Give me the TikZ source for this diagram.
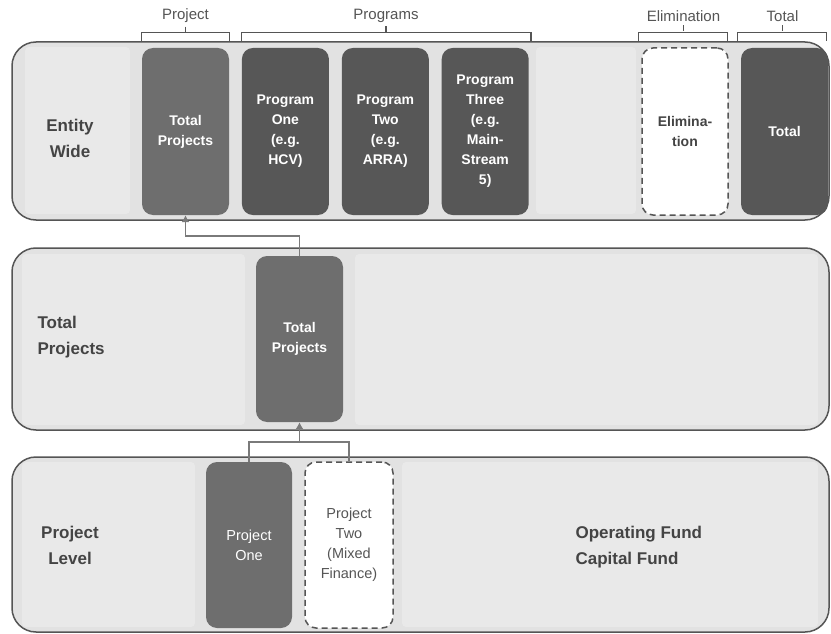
\documentclass[tikz,border=0pt]{standalone}
\usepackage{fontspec}
\setmainfont{Liberation Sans}
\usepackage{xcolor}
\usepackage{tikz}
\usetikzlibrary{arrows.meta,positioning}
\definecolor{panelfill}{HTML}{E2E2E2}
\definecolor{stripfill}{HTML}{E9E9E9}
\definecolor{panelline}{HTML}{555555}
\definecolor{boxmid}{HTML}{6E6E6E}
\definecolor{boxdark}{HTML}{575757}
\definecolor{labeltext}{HTML}{444444}
\definecolor{headtext}{HTML}{555555}
\definecolor{linkgray}{HTML}{7A7A7A}

\begin{document}
\begin{tikzpicture}[x=1pt,y=-1pt,>={Latex[length=7pt,width=8pt]},node distance=12.5pt,
panel/.style={draw=panelline,line width=1.5pt,rounded corners=24pt,fill=panelfill,minimum width=817pt,inner sep=0pt},
strip/.style={fill=stripfill,rounded corners=4pt},
box/.style={rounded corners=11pt,minimum width=87pt,minimum height=167pt,inner sep=2pt,align=center,text=white,font=\fontsize{14}{20}\selectfont\bfseries},
dbox/.style={box,fill=white,draw=panelline,dash pattern=on 6pt off 4pt,line width=1.5pt},
tier/.style={font=\fontsize{17}{26}\selectfont\bfseries,text=labeltext},
head/.style={font=\fontsize{15}{17}\selectfont,text=headtext},
brk/.style={draw=panelline,line width=1.2pt},
link/.style={draw=linkgray,line width=1.5pt}]
\useasboundingbox[fill=white] (0,0) rectangle (831,634);

% the three levels
\node[panel,minimum height=178pt] (ew) at (420.5,131) {};
\node[panel,minimum height=182pt] (tpl) at (420.5,339) {};
\node[panel,minimum height=175pt] (pl) at (420.5,544.5) {};
\fill[strip] (25,47) rectangle (130,214);
\fill[strip] (536,47) rectangle (636,214);
\fill[strip] (22,254) rectangle (245,425);
\fill[strip] (355,254) rectangle (818,425);
\fill[strip] (22,462) rectangle (195,627);
\fill[strip] (402,462) rectangle (818,627);

\node[tier,align=center] (lew) at (70,138) {Entity\\Wide};
\node[tier,align=left,anchor=west] (ltp) at (34,337) {Total\\Projects};
\node[tier,align=center] (lpl) at (70,545) {Project\\Level};
\node[tier,align=left,anchor=west] (lfund) at (572,547) {Operating Fund\\Capital Fund};

% entity wide
\node[box,fill=boxmid] (tp) at (185.5,131.5) {Total\\Projects};
\node[box,fill=boxdark,right=of tp] (p1) {Program\\One\\(e.g.\\HCV)};
\node[box,fill=boxdark,right=of p1] (p2) {Program\\Two\\(e.g.\\ARRA)};
\node[box,fill=boxdark,right=of p2] (p3) {Program\\Three\\(e.g.\\Main-\\Stream\\5)};
\node[dbox,minimum width=86pt,text=labeltext,font=\fontsize{14}{20}\selectfont\bfseries] (el) at (685,131.5) {Elimina-\\tion};
\node[box,fill=boxdark] (tot) at (784.5,131.5) {Total};

\node[head] (hproj) at (185.5,16) {Project};
\node[head] (hprog) at (386,16) {Programs};
\node[head] (helim) at (683.5,16) {Elimination};
\node[head] (htot) at (782.5,16) {Total};
\draw[brk] (tp.north west |- ew.north) -- ++(0,-9) -| (tp.north east |- ew.north);
\draw[brk] (p1.north west |- ew.north) -- ++(0,-9) -| ([xshift=2pt]p3.north east |- ew.north);
\draw[brk] ([xshift=-3pt]el.north west |- ew.north) -- ++(0,-9) -| ([xshift=-1pt]el.north east |- ew.north);
\draw[brk] ([xshift=-3pt]tot.north west |- ew.north) -- ++(0,-9) -| ([xshift=-2pt]tot.north east |- ew.north);
\draw[brk] (hproj.south) -- ++(0,6);
\draw[brk] (hprog.south) -- ++(0,6);
\draw[brk] (helim.south) -- ++(0,6);
\draw[brk] (htot.south) -- ++(0,6);

% total projects
\node[box,fill=boxmid,minimum height=166pt] (tp2) at (299.5,339) {Total\\Projects};
\coordinate[above=20pt of tp2.north] (k);
\draw[link,->] (tp2.north) -- (k) -| (tp.south);

% project level
\node[box,fill=boxmid,minimum width=86pt,minimum height=166pt,font=\fontsize{14.5}{20}\selectfont] (po) at (249,545) {Project\\One};
\node[dbox,minimum width=88pt,minimum height=166pt,text=headtext,font=\fontsize{14.5}{20}\selectfont] (pt) at (349,545) {Project\\Two\\(Mixed\\Finance)};
\coordinate[below=20pt of tp2.south] (j);
\draw[link] (po.north) |- (j) -| (pt.north);
\draw[link,->] (j) -- (tp2.south);
\end{tikzpicture}
\end{document}
